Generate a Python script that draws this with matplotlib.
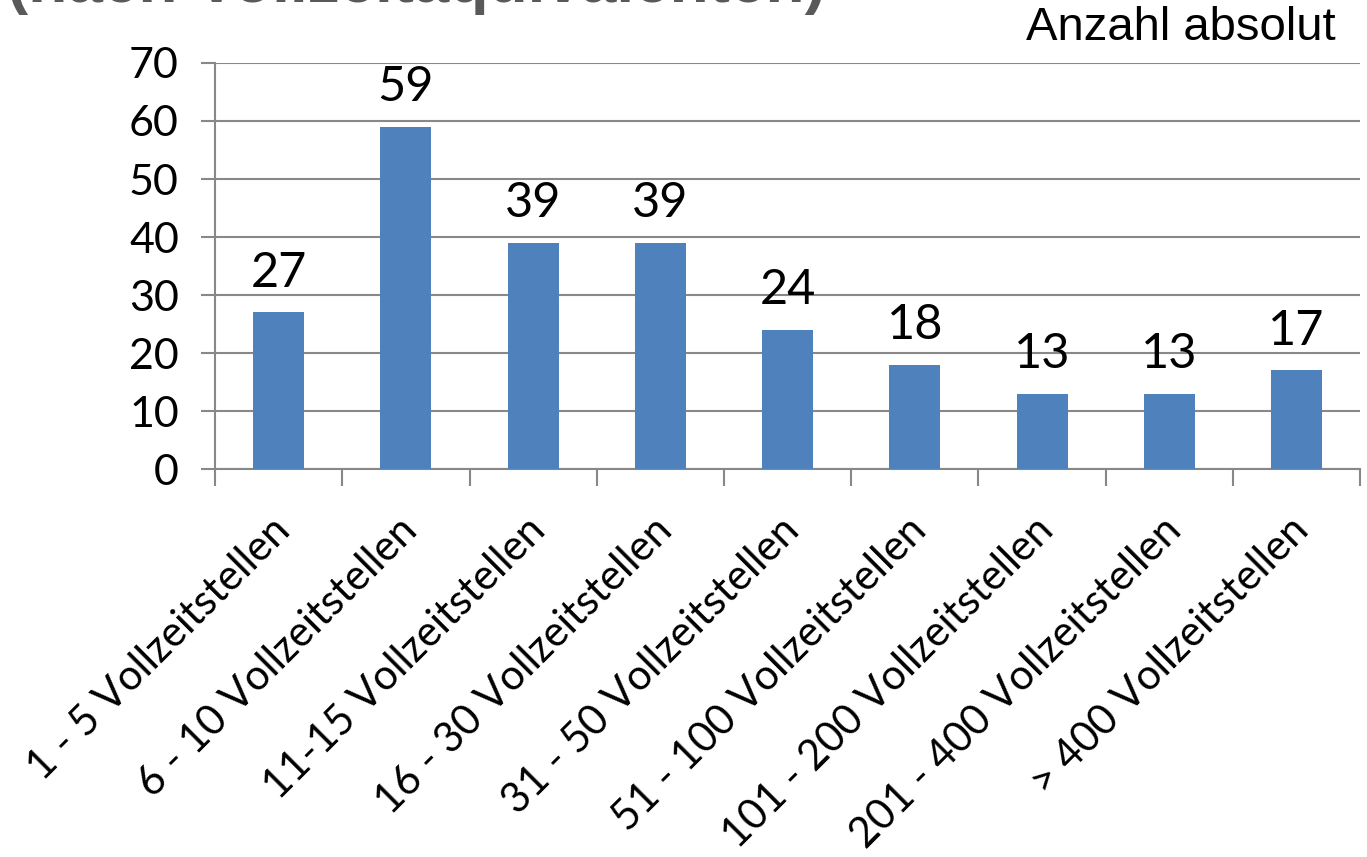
import matplotlib.pyplot as plt
import matplotlib.transforms as mtransforms
import numpy as np

# Betriebsgrößen nach Vollzeitstellen
kategorien = ["1 - 5 Vollzeitstellen", "6 - 10 Vollzeitstellen", "11-15 Vollzeitstellen",
              "16 - 30 Vollzeitstellen", "31 - 50 Vollzeitstellen", "51 - 100 Vollzeitstellen",
              "101 - 200 Vollzeitstellen", "201 - 400 Vollzeitstellen", "> 400 Vollzeitstellen"]
anzahl = [27, 59, 39, 39, 24, 18, 13, 13, 17]
y_ticks = [0, 10, 20, 30, 40, 50, 60, 70]

fig = plt.figure(figsize=(13.67, 8.57), dpi=100)
ax = fig.add_axes([0.1573, 0.4527, 0.8377, 0.4738])

x = np.arange(len(anzahl))
ax.bar(x, anzahl, width=0.4, color="#4f81bd", zorder=3)

for xi, v in zip(x, anzahl):
    ax.text(xi, v + 3.0, str(v), ha="center", va="bottom", fontsize=35,
            family="Lato", color="black")

ax.set_xlim(-0.5, len(anzahl) - 0.5)
ax.set_ylim(0, 70)
ax.set_yticks(y_ticks)
ax.set_yticklabels([str(t) for t in y_ticks], fontsize=31, family="Lato")
ax.yaxis.grid(True, color="#888888", linewidth=1.5, zorder=0)
ax.tick_params(axis="y", length=10, width=1.5, color="#888888", pad=16)

# Teilstriche zwischen den Kategorien, Beschriftung in der Mitte
ax.set_xticks(np.arange(len(anzahl) + 1) - 0.5)
ax.set_xticklabels([])
ax.tick_params(axis="x", length=12, width=1.5, color="#888888")
ax.set_xticks(x, minor=True)
ax.set_xticklabels(kategorien, minor=True, rotation=45, ha="right",
                   rotation_mode="anchor", fontsize=30, family="Lato")
ax.tick_params(axis="x", which="minor", length=0, pad=30)
verschiebung = mtransforms.ScaledTranslation(-0.08, 0, fig.dpi_scale_trans)
for lbl in ax.get_xticklabels(minor=True):
    lbl.set_transform(lbl.get_transform() + verschiebung)

for s in ["top", "right"]:
    ax.spines[s].set_visible(False)
for s in ["left", "bottom"]:
    ax.spines[s].set_color("#888888")
    ax.spines[s].set_linewidth(1.5)

fig.text(0.977, 0.942, "Anzahl absolut", ha="right", va="bottom", fontsize=34,
         family="Liberation Sans")
fig.text(0.005, 0.982, "(nach Vollzeitäquivalenten)", ha="left", va="bottom",
         fontsize=46, fontweight="bold", color="#595959", family="Liberation Sans")

fig.savefig("out.png", dpi=100)
